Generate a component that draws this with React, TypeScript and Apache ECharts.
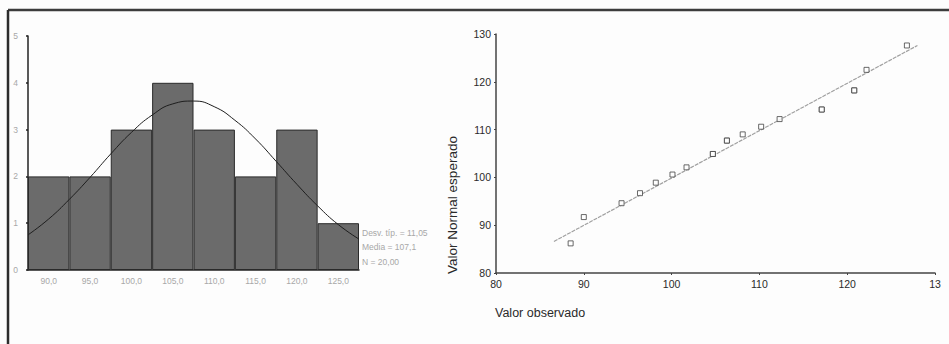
import React, { useEffect, useRef } from "react";
import * as echarts from "echarts";

// Histogram
const binLabels = ["90,0", "95,0", "100,0", "105,0", "110,0", "115,0", "120,0", "125,0"];
const binCounts = [2, 2, 3, 4, 3, 2, 3, 1];
// Normal curve (x, frequency)
const curveX = [87.5, 90, 92.5, 95, 97.5, 100, 102.5, 105, 107.5, 110, 112.5, 115, 117.5, 120, 122.5, 125, 127.5];
const curveY = [0.75, 1.09, 1.51, 1.98, 2.48, 2.94, 3.31, 3.55, 3.61, 3.49, 3.2, 2.8, 2.32, 1.83, 1.37, 0.97, 0.66];
const statsLines = ["Desv. típ. = 11,05", "Media = 107,1", "N = 20,00"];

// Q-Q plot
const observed = [88.5, 90.0, 94.3, 96.4, 98.2, 100.1, 101.7, 104.7, 104.7, 106.3, 106.3, 108.1, 110.2, 112.3, 117.1, 117.1, 120.8, 120.8, 122.2, 126.8];
const expected = [86.2, 91.7, 94.6, 96.7, 98.9, 100.6, 102.1, 104.9, 104.9, 107.7, 107.7, 109.0, 110.6, 112.2, 114.2, 114.2, 118.2, 118.2, 122.5, 127.6];
const refLineX = [86.6, 128.0];
const refLineY = [86.6, 127.6];
const xTitle = "Valor observado";
const yTitle = "Valor Normal esperado";

const FONT = "Liberation Sans, Arial, sans-serif";

export default function App() {
  const ref = useRef<HTMLDivElement>(null);
  useEffect(() => {
    if (!ref.current) return;
    const chart = echarts.init(ref.current, null, { renderer: "svg" });
    chart.setOption({
      animation: false,
      backgroundColor: "#fdfdfd",
      textStyle: { fontFamily: FONT },
      grid: [
        { left: 28, top: 36, width: 331, height: 234, containLabel: false },
        { left: 496, top: 34, width: 439, height: 239, containLabel: false },
      ],
      xAxis: [
        {
          type: "category",
          gridIndex: 0,
          data: binLabels,
          boundaryGap: true,
          axisLine: { lineStyle: { color: "#222", width: 1.5 } },
          axisTick: { alignWithLabel: true, length: 3, lineStyle: { color: "#222", width: 2 } },
          axisLabel: { color: "#a8a8a8", fontSize: 8.5, margin: 6, fontFamily: FONT },
          splitLine: { show: false },
        },
        {
          type: "value",
          gridIndex: 0,
          min: 87.5,
          max: 127.5,
          show: false,
        },
        {
          type: "value",
          gridIndex: 1,
          min: 80,
          max: 130,
          interval: 10,
          axisLine: { show: true, lineStyle: { color: "#444", width: 1.5 } },
          axisTick: { show: true, length: 2, lineStyle: { color: "#444" } },
          axisLabel: {
            color: "#2a2a2a",
            fontSize: 10.5,
            margin: 5,
            fontFamily: FONT,
            formatter: (v: number) => (v === 130 ? "13" : String(v)),
          },
          splitLine: { show: false },
        },
      ],
      yAxis: [
        {
          type: "value",
          gridIndex: 0,
          min: 0,
          max: 5,
          interval: 1,
          axisLine: { show: true, lineStyle: { color: "#222", width: 1.5 } },
          axisTick: { show: true, length: 2, lineStyle: { color: "#222", width: 1.5 } },
          axisLabel: { color: "#a8a8a8", fontSize: 8.5, margin: 10, fontFamily: FONT },
          splitLine: { show: false },
        },
        {
          type: "value",
          gridIndex: 1,
          min: 80,
          max: 130,
          interval: 10,
          axisLine: { show: true, lineStyle: { color: "#444", width: 1.5 } },
          axisTick: { show: true, length: 2, lineStyle: { color: "#444" } },
          axisLabel: { color: "#2a2a2a", fontSize: 10.5, margin: 5, fontFamily: FONT },
          splitLine: { show: false },
        },
      ],
      series: [
        {
          type: "bar",
          xAxisIndex: 0,
          yAxisIndex: 0,
          data: binCounts,
          barCategoryGap: "0%",
          itemStyle: { color: "#6b6b6b", borderColor: "#2a2a2a", borderWidth: 1 },
        },
        {
          type: "line",
          xAxisIndex: 1,
          yAxisIndex: 0,
          data: curveX.map((x, i) => [x, curveY[i]]),
          smooth: true,
          showSymbol: false,
          lineStyle: { color: "#1e1e1e", width: 1 },
          z: 5,
        },
        {
          type: "line",
          xAxisIndex: 2,
          yAxisIndex: 1,
          data: refLineX.map((x, i) => [x, refLineY[i]]),
          showSymbol: false,
          lineStyle: { color: "#a0a0a0", width: 1.2, type: [4, 1] },
        },
        {
          type: "scatter",
          xAxisIndex: 2,
          yAxisIndex: 1,
          data: observed.map((x, i) => [x, expected[i]]),
          symbol: "rect",
          symbolSize: 5,
          itemStyle: { color: "#ffffff", borderColor: "#444", borderWidth: 1 },
          z: 6,
        },
      ],
      graphic: [
        {
          type: "line",
          shape: { x1: 8, y1: 10, x2: 949, y2: 10 },
          style: { stroke: "#3c3c3c", lineWidth: 2.5 },
        },
        {
          type: "line",
          shape: { x1: 8, y1: 10, x2: 8, y2: 344 },
          style: { stroke: "#2c2c2c", lineWidth: 2.5 },
        },
        {
          type: "text",
          x: 452,
          y: 205,
          rotation: Math.PI / 2,
          style: {
            text: yTitle,
            fill: "#2a2a2a",
            font: `13.5px ${FONT}`,
            align: "center",
            verticalAlign: "middle",
          },
        },
        {
          type: "text",
          left: 495,
          top: 306,
          style: { text: xTitle, fill: "#2a2a2a", font: `12.5px ${FONT}` },
        },
        ...statsLines.map((t, i) => ({
          type: "text",
          left: 362,
          top: 228 + i * 14.5,
          style: { text: t, fill: "#a8a8a8", font: `8.5px ${FONT}` },
        })),
      ],
    });
    return () => chart.dispose();
  }, []);
  return (
    <div
      ref={ref}
      style={{ position: "fixed", left: 0, top: 0, width: 949, height: 344 }}
    />
  );
}
